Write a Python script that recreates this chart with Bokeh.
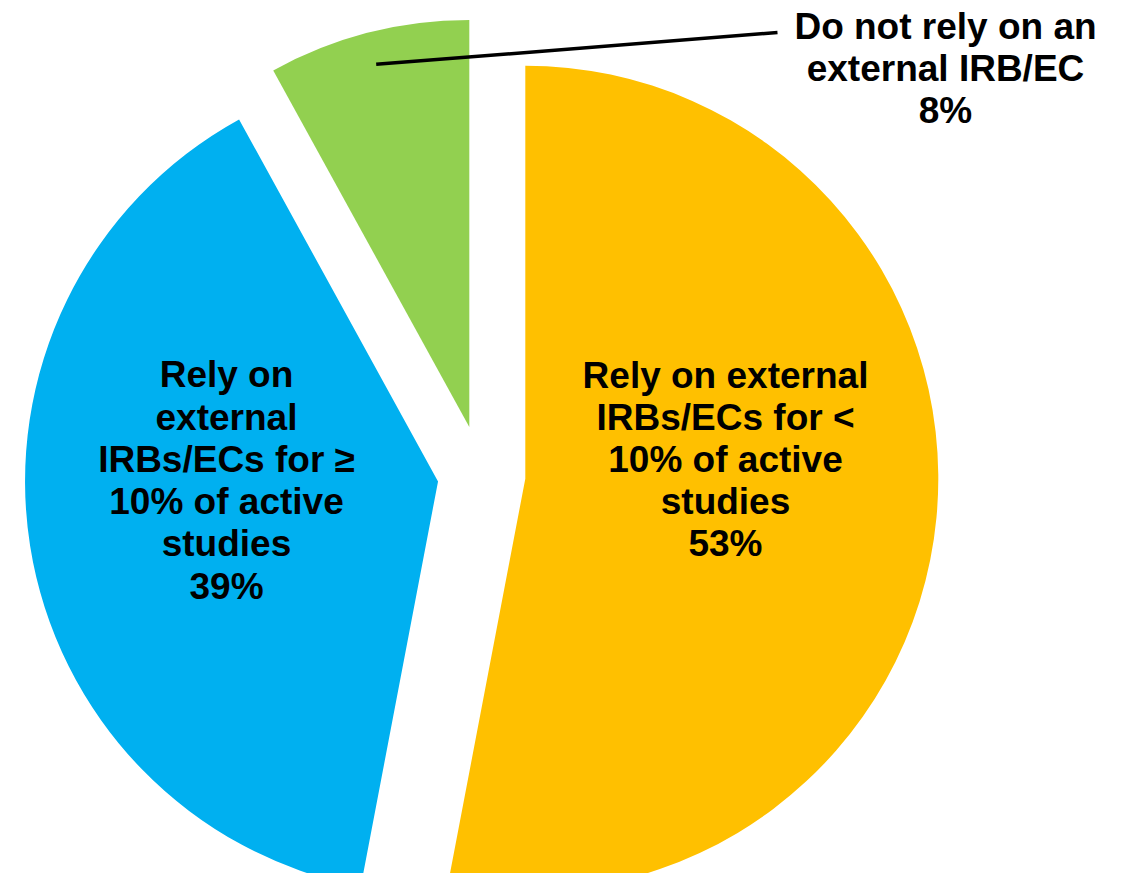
import numpy as np
from bokeh.plotting import figure
from bokeh.models import Range1d, ColumnDataSource
from bokeh.core.properties import value
from bokeh.embed import file_html
from bokeh.resources import INLINE

# ---- data ----
categories = [
    "Rely on external\nIRBs/ECs for <\n10% of active\nstudies",
    "Rely on\nexternal\nIRBs/ECs for \u2265\n10% of active\nstudies",
    "Do not rely on an\nexternal IRB/EC",
]
shares = [53, 39, 8]

# ---- styles / layout ----
colors = ["#FFC000", "#00B0F0", "#92D050"]
CX, CY = 481, -474          # pie centre (1 data unit = 1 px, y negated)
radii = [413, 413, 407]
explode = [44, 44, 49]
label_pos = [(725, -459), (226, -480), (945, -68)]
leader_end = (777, -32)

W, H = 1111, 873
p = figure(width=W, height=H, output_backend="svg", toolbar_location=None,
           x_range=Range1d(0, W), y_range=Range1d(-H, 0),
           min_border=0, outline_line_color=None,
           background_fill_color="white", border_fill_color="white")
p.axis.visible = False
p.grid.visible = False

vals = np.array(shares, dtype=float)
frac = vals / vals.sum()
cum_end = np.cumsum(frac)
cum_start = cum_end - frac
start = np.pi / 2 - 2 * np.pi * cum_start
end = np.pi / 2 - 2 * np.pi * cum_end
mid = (start + end) / 2
xs = CX + np.array(explode) * np.cos(mid)
ys = CY + np.array(explode) * np.sin(mid)

src = ColumnDataSource(dict(x=xs, y=ys, r=radii, s=start, e=end, c=colors))
p.wedge(x="x", y="y", radius="r", start_angle="s", end_angle="e",
        direction="clock", fill_color="c", line_color=None, source=src)

# leader line for the small slice
gx = xs[2] + 0.92 * radii[2] * np.cos(mid[2])
gy = ys[2] + 0.92 * radii[2] * np.sin(mid[2])
p.line([gx, leader_end[0]], [gy, leader_end[1]], line_color="black", line_width=3.5)

texts = [f"{c}\n{v}%" for c, v in zip(categories, shares)]
p.text(x=[lp[0] for lp in label_pos], y=[lp[1] for lp in label_pos], text=texts,
       text_align="center", text_baseline="middle",
       text_font=value("Liberation Sans"), text_font_style="bold",
       text_font_size="37px", text_line_height=1.03, text_color="black")

open("out.html", "w").write(file_html(p, INLINE))
